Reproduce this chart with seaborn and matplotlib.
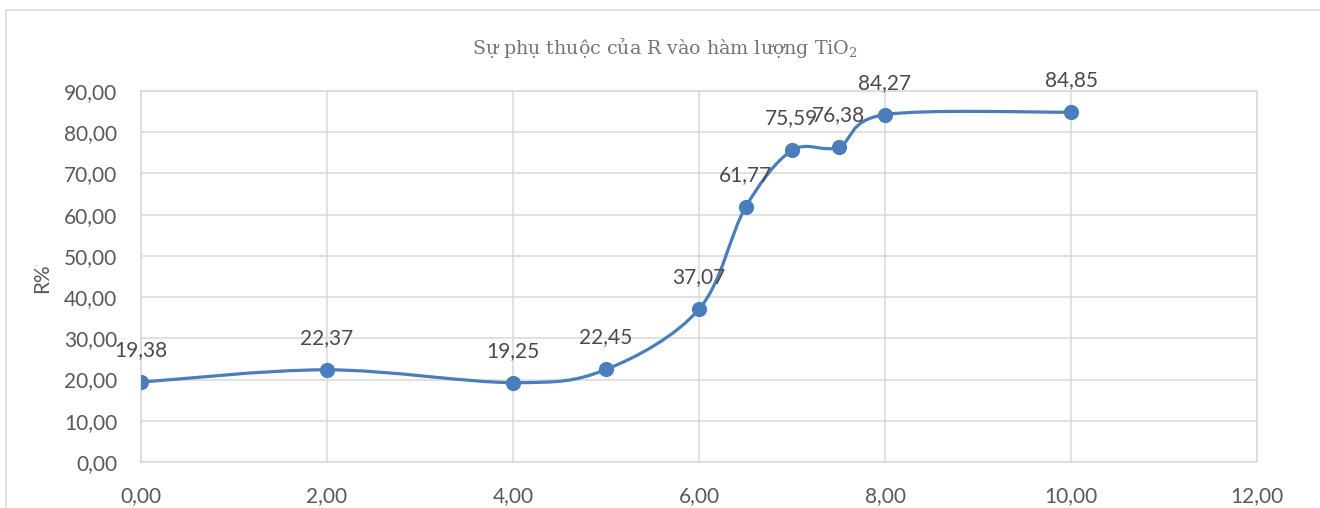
import numpy as np
import matplotlib
matplotlib.use("Agg")
import matplotlib.pyplot as plt
import seaborn as sns
import pandas as pd
from matplotlib.path import Path
from matplotlib.patches import PathPatch, Rectangle

# ---- data ----
tio2 = [0, 2, 4, 5, 6, 6.5, 7, 7.5, 8, 10]
r_pct = [19.38, 22.37, 19.25, 22.45, 37.07, 61.77, 75.59, 76.38, 84.27, 84.85]
labels = ["19,38", "22,37", "19,25", "22,45", "37,07", "61,77", "75,59", "76,38", "84,27", "84,85"]
xticks = [0, 2, 4, 6, 8, 10, 12]
yticks = [0, 10, 20, 30, 40, 50, 60, 70, 80, 90]
title = "Sự phụ thuộc của R vào hàm lượng TiO$_2$"
ylabel = "R%"

df = pd.DataFrame({"x": tio2, "y": r_pct})

sns.set_theme(style="white")
plt.rcParams['font.family'] = ['Lato', 'DejaVu Sans']
plt.rcParams['mathtext.fontset'] = 'dejavuserif'

fig = plt.figure(figsize=(13.2, 5.08), dpi=100)
ax = fig.add_axes([141/1320, 1-462/508, (1257-141)/1320, (462-91)/508])

blue = "#4a7ebb"
grid = "#d9d9d9"

# smoothed line (Excel-style cardinal Bezier)
pts = np.column_stack([tio2, r_pct]).astype(float)
n = len(pts)
verts = [tuple(pts[0])]
codes = [Path.MOVETO]
for i in range(n - 1):
    p0 = pts[max(i - 1, 0)]
    p1 = pts[i]
    p2 = pts[i + 1]
    p3 = pts[min(i + 2, n - 1)]
    c1 = p1 + (p2 - p0) / 6.0
    c2 = p2 - (p3 - p1) / 6.0
    verts += [tuple(c1), tuple(c2), tuple(p2)]
    codes += [Path.CURVE4] * 3
ax.add_patch(PathPatch(Path(verts, codes), facecolor="none", edgecolor=blue,
                       lw=2.3, zorder=3, capstyle="round", joinstyle="round"))

sns.scatterplot(data=df, x="x", y="y", ax=ax, color=blue, s=120,
                edgecolor=blue, linewidth=0, zorder=4, legend=False)

for xv, yv, lab in zip(tio2, r_pct, labels):
    ax.annotate(lab, (xv, yv), xytext=(0, 23), textcoords="offset points",
                ha="center", va="center", fontsize=15, color="#4a4a4a", zorder=5)

ax.set_xlim(0, 12)
ax.set_ylim(0, 90)
ax.set_xticks(xticks)
ax.set_yticks(yticks)
ax.set_xticklabels([f"{v:.2f}".replace(".", ",") for v in xticks])
ax.set_yticklabels([f"{v:.2f}".replace(".", ",") for v in yticks])
ax.tick_params(axis="both", length=0, labelsize=15, labelcolor="#595959")
ax.tick_params(axis="y", pad=17)
ax.tick_params(axis="x", pad=17)
ax.grid(True, color=grid, lw=1.1)
ax.set_axisbelow(True)
for s in ax.spines.values():
    s.set_color(grid)
    s.set_linewidth(1.1)
ax.set_xlabel("")
ax.set_ylabel(ylabel, fontsize=15, color="#595959", labelpad=10)
ax.yaxis.set_label_coords(-(141 - 52) / 1116, (462 - 278) / 371)

fig.text(665/1320, 1 - 48/508, title, ha="center", va="center",
         fontsize=13.7, color="#757575", family=["DejaVu Serif"])

fig.patches.append(Rectangle((6/1320, -0.2), 1.2, 1 - 10/508 + 0.2,
                             transform=fig.transFigure, fill=False,
                             edgecolor=grid, lw=1.1, zorder=0))

fig.savefig("out.png", dpi=100)
